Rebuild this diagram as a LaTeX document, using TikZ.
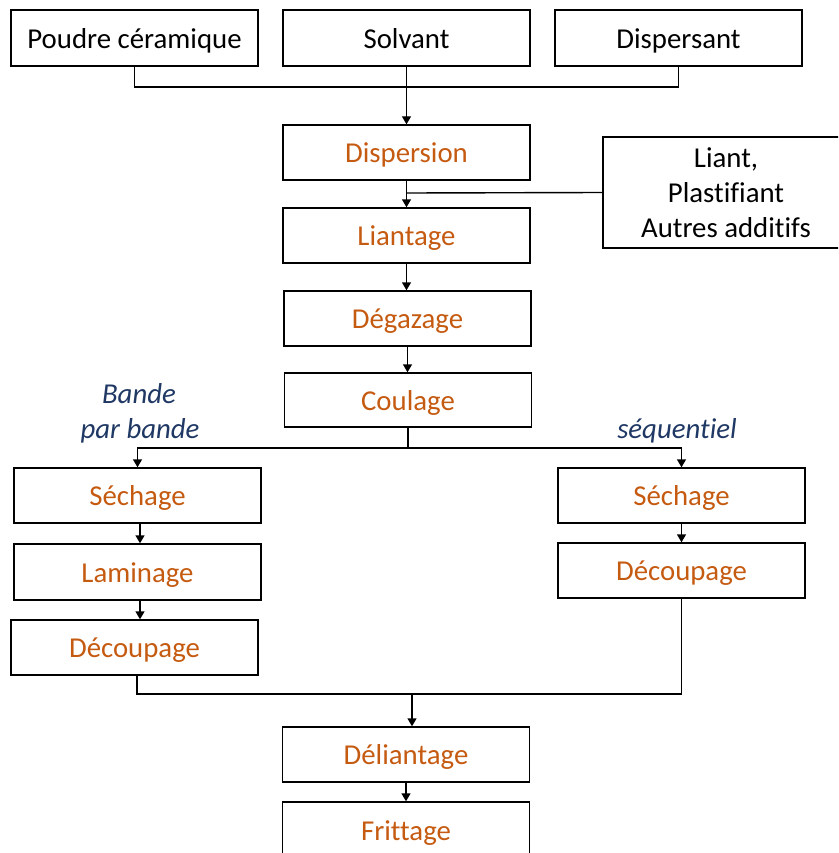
\documentclass[tikz,border=0pt]{standalone}
\usepackage{fontspec}
\setmainfont{Carlito}[Ligatures=NoCommon]
\usetikzlibrary{arrows.meta}
\definecolor{procorange}{HTML}{C55A11}
\definecolor{labelblue}{HTML}{1F3864}
\begin{document}
\begin{tikzpicture}[x=1pt,y=-1pt,
  basebox/.style={draw=black, line width=1.4pt, minimum width=247pt, minimum height=55pt, inner sep=0pt, font=\fontsize{28.8}{35}\selectfont, text=black},
  box/.style={basebox, text height=26.5pt, text depth=6pt},
  proc/.style={box, text=procorange},
  lbl/.style={font=\fontsize{28.8}{35}\selectfont\itshape, text=labelblue, align=center, inner sep=0pt},
  conn/.style={line width=1.4pt},
  arr/.style={conn, -{Triangle[width=9pt,length=8pt]}}]
\useasboundingbox (0,0) rectangle (838,853);
\clip (0,0) rectangle (838,853);
% input boxes
\node[box, minimum height=56pt] (poudre) at (134.5,38) {Poudre céramique};
\node[box, minimum height=56pt] (solvant) at (406.5,38) {Solvant};
\node[box, minimum height=56pt] (dispersant) at (678.5,38) {Dispersant};
\node[basebox, minimum width=246pt, minimum height=111pt, align=center] (liant) at (726,192.5) {Liant,\\Plastifiant\\Autres additifs};
% process boxes
\node[proc] (dispersion) at (406.5,152.5) {Dispersion};
\node[proc] (liantage) at (406.5,235.5) {Liantage};
\node[proc] (degazage) at (407.5,318.5) {Dégazage};
\node[proc, minimum height=54pt] (coulage) at (408,400) {Coulage};
\node[proc] (sech1) at (137.5,495.5) {Séchage};
\node[proc, minimum height=56pt] (lam) at (137.5,572) {Laminage};
\node[proc] (dec1) at (134.5,647.5) {Découpage};
\node[proc] (sech2) at (681.5,495.5) {Séchage};
\node[proc] (dec2) at (681.5,570.5) {Découpage};
\node[proc] (deli) at (406,754.5) {Déliantage};
\node[proc, minimum height=56pt] (fritt) at (406,830) {Frittage};
% labels
\node[lbl, anchor=base] (bande) at (139,403) {Bande};
\node[lbl, anchor=base] (parbande) at (140,438) {par bande};
\node[lbl, anchor=base] (seq) at (677,438) {séquentiel};
% connectors
\coordinate (j1) at (406.5,87);
\draw[conn] (poudre.south) |- (j1) -| (dispersant.south);
\draw[arr] (solvant.south) -- (dispersion.north);
\draw[arr] (dispersion.south) -- (liantage.north);
\coordinate (j2) at (407,193);
\draw[conn] (liant.west) -- (j2);
\draw[arr] (liantage.south) -- (liantage.south |- degazage.north);
\draw[arr] (degazage.south) -- (degazage.south |- coulage.north);
\coordinate (j3) at (408,448);
\draw[conn] (coulage.south) -- (j3);
\draw[arr] (j3) -| (sech1.north);
\draw[arr] (j3) -| (sech2.north);
\coordinate (j4) at (412,694);
\draw[arr] (sech1.south -| 140,0) -- (lam.north -| 140,0);
\draw[arr] (lam.south -| 140,0) -- (dec1.north -| 140,0);
\draw[arr] (sech2.south) -- (dec2.north);
\draw[conn] (dec1.south -| 137,0) |- (j4) -| (dec2.south);
\draw[arr] (j4) -- (j4 |- deli.north);
\draw[arr] (deli.south) -- (fritt.north);
\end{tikzpicture}
\end{document}
